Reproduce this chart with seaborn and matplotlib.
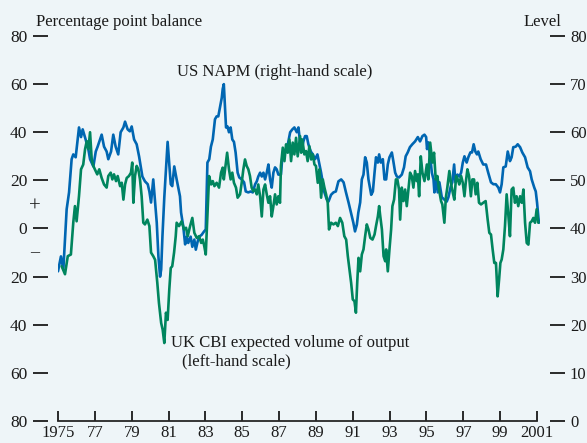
# plot.py - UK CBI output expectations vs US NAPM

import seaborn as sns
import matplotlib.pyplot as plt
import matplotlib.transforms as mtransforms

# US NAPM index (right-hand scale, level)
napm_years = [
    1975.00, 1975.16, 1975.29, 1975.47, 1975.60, 1975.74, 1975.83, 1975.96,
    1976.14, 1976.25, 1976.34, 1976.50, 1976.65, 1976.74, 1976.92, 1977.05,
    1977.15, 1977.28, 1977.37, 1977.50, 1977.64, 1977.73, 1977.88, 1978.00,
    1978.13, 1978.27, 1978.40, 1978.55, 1978.64, 1978.78, 1978.90, 1979.00,
    1979.13, 1979.27, 1979.40, 1979.58, 1979.72, 1979.87, 1979.96, 1980.05,
    1980.17, 1980.27, 1980.36, 1980.45, 1980.54, 1980.60, 1980.67, 1980.77,
    1980.86, 1980.95, 1981.02, 1981.12, 1981.20, 1981.31, 1981.44, 1981.53,
    1981.62, 1981.68, 1981.80, 1981.90, 1981.99, 1982.07, 1982.20, 1982.29,
    1982.40, 1982.48, 1982.58, 1982.67, 1982.80, 1982.93, 1983.02, 1983.11,
    1983.21, 1983.30, 1983.40, 1983.52, 1983.61, 1983.70, 1983.80, 1983.89,
    1983.94, 1984.00, 1984.07, 1984.12, 1984.20, 1984.28, 1984.37, 1984.46,
    1984.55, 1984.64, 1984.75, 1984.84, 1984.97, 1985.10, 1985.19, 1985.33,
    1985.46, 1985.57, 1985.70, 1985.79, 1985.87, 1985.97, 1986.06, 1986.15,
    1986.24, 1986.33, 1986.42, 1986.51, 1986.60, 1986.69, 1986.78, 1986.87,
    1986.96, 1987.10, 1987.18, 1987.32, 1987.45, 1987.60, 1987.72, 1987.83,
    1987.96, 1988.05, 1988.14, 1988.23, 1988.32, 1988.41, 1988.50, 1988.59,
    1988.72, 1988.83, 1988.95, 1989.08, 1989.17, 1989.28, 1989.37, 1989.46,
    1989.59, 1989.68, 1989.82, 1989.95, 1990.08, 1990.22, 1990.37, 1990.50,
    1990.63, 1990.77, 1990.90, 1991.03, 1991.12, 1991.22, 1991.30, 1991.40,
    1991.49, 1991.58, 1991.67, 1991.76, 1991.85, 1992.00, 1992.09, 1992.18,
    1992.26, 1992.36, 1992.43, 1992.52, 1992.63, 1992.72, 1992.81, 1992.90,
    1992.99, 1993.12, 1993.20, 1993.30, 1993.39, 1993.51, 1993.66, 1993.78,
    1993.87, 1993.98, 1994.10, 1994.23, 1994.38, 1994.53, 1994.65, 1994.78,
    1994.89, 1994.98, 1995.03, 1995.10, 1995.20, 1995.29, 1995.38, 1995.43,
    1995.52, 1995.61, 1995.70, 1995.83, 1995.97, 1996.10, 1996.19, 1996.32,
    1996.40, 1996.50, 1996.57, 1996.68, 1996.78, 1996.88, 1996.97, 1997.06,
    1997.18, 1997.27, 1997.38, 1997.47, 1997.56, 1997.65, 1997.74, 1997.81,
    1997.94, 1998.08, 1998.23, 1998.35, 1998.50, 1998.63, 1998.76, 1998.90,
    1998.99, 1999.08, 1999.17, 1999.30, 1999.41, 1999.53, 1999.62, 1999.71,
    1999.84, 1999.95, 2000.08, 2000.20, 2000.35, 2000.49, 2000.62, 2000.71,
    2000.85, 2000.93, 2001.00, 2001.10,
]
napm_level = [
    31.1, 34.2, 31.5, 44.0, 47.5, 54.4, 55.4, 54.8,
    61.0, 59.0, 60.6, 58.5, 56.4, 54.4, 52.9, 56.0,
    57.0, 58.5, 59.5, 57.0, 56.0, 54.4, 56.0, 59.5,
    57.0, 55.4, 60.0, 61.0, 62.2, 60.6, 60.2, 61.2,
    58.5, 57.5, 55.0, 50.8, 49.8, 49.2, 47.7, 45.4,
    50.2, 45.4, 41.2, 34.2, 30.0, 31.5, 38.5, 46.5,
    52.3, 58.0, 54.4, 49.2, 48.8, 52.9, 50.2, 48.5,
    46.7, 43.3, 40.4, 36.7, 38.3, 37.0, 38.3, 36.2,
    37.7, 35.6, 37.3, 38.3, 38.7, 39.4, 39.8, 53.7,
    54.4, 57.0, 58.5, 62.7, 63.3, 63.3, 65.4, 67.2,
    69.0, 70.0, 64.8, 61.0, 61.2, 60.0, 61.0, 58.5,
    58.0, 55.8, 51.6, 50.6, 50.2, 49.6, 47.7, 47.5,
    47.7, 47.5, 49.2, 49.8, 50.8, 51.6, 50.8, 51.6,
    50.2, 51.6, 53.3, 50.2, 48.5, 51.6, 52.7, 52.3,
    51.2, 51.2, 55.0, 56.0, 57.0, 60.0, 60.6, 61.0,
    60.0, 61.0, 57.9, 56.5, 58.1, 59.2, 59.2, 57.5,
    56.0, 55.4, 54.4, 55.4, 53.7, 51.6, 49.6, 47.5,
    46.0, 45.6, 47.0, 47.5, 47.7, 49.8, 50.2, 49.6,
    47.5, 45.4, 43.3, 41.2, 39.4, 40.8, 43.3, 45.4,
    50.2, 51.2, 54.8, 53.7, 50.2, 47.0, 47.7, 51.6,
    54.8, 53.7, 55.4, 53.7, 54.4, 50.2, 50.2, 53.3,
    54.8, 55.8, 54.0, 51.6, 50.8, 50.6, 51.2, 52.7,
    55.0, 55.8, 56.9, 57.5, 58.1, 59.0, 58.1, 59.2,
    59.5, 59.0, 56.5, 57.9, 55.0, 51.6, 50.2, 47.5,
    50.2, 47.5, 49.6, 46.5, 46.0, 45.6, 46.5, 48.8,
    49.6, 53.3, 49.6, 51.2, 50.8, 51.6, 53.7, 55.0,
    53.7, 54.8, 55.8, 55.8, 57.5, 56.0, 55.4, 56.0,
    54.4, 53.3, 53.3, 51.6, 49.6, 49.2, 49.2, 48.5,
    47.5, 49.2, 52.7, 52.9, 56.0, 54.0, 54.8, 56.9,
    57.0, 57.5, 56.9, 55.8, 54.8, 52.7, 51.9, 50.2,
    48.5, 47.7, 45.4, 41.2,
]

# UK CBI expected volume of output (left-hand scale, balance)
cbi_years = [
    1975.20, 1975.38, 1975.53, 1975.70, 1975.83, 1975.92, 1976.01, 1976.14,
    1976.25, 1976.37, 1976.47, 1976.56, 1976.65, 1976.74, 1976.83, 1976.92,
    1977.00, 1977.13, 1977.24, 1977.37, 1977.50, 1977.64, 1977.73, 1977.86,
    1977.95, 1978.04, 1978.15, 1978.24, 1978.37, 1978.46, 1978.55, 1978.64,
    1978.73, 1978.85, 1978.96, 1979.03, 1979.09, 1979.18, 1979.27, 1979.36,
    1979.45, 1979.54, 1979.63, 1979.72, 1979.85, 1979.96, 1980.05, 1980.17,
    1980.27, 1980.39, 1980.48, 1980.60, 1980.68, 1980.77, 1980.86, 1980.95,
    1981.04, 1981.12, 1981.20, 1981.30, 1981.39, 1981.44, 1981.57, 1981.71,
    1981.84, 1981.95, 1982.04, 1982.17, 1982.29, 1982.40, 1982.53, 1982.66,
    1982.77, 1982.86, 1982.94, 1983.02, 1983.11, 1983.20, 1983.31, 1983.40,
    1983.49, 1983.61, 1983.74, 1983.85, 1983.94, 1984.00, 1984.10, 1984.18,
    1984.28, 1984.37, 1984.46, 1984.55, 1984.66, 1984.75, 1984.88, 1984.97,
    1985.06, 1985.15, 1985.24, 1985.33, 1985.42, 1985.51, 1985.60, 1985.70,
    1985.79, 1985.87, 1985.97, 1986.06, 1986.15, 1986.24, 1986.33, 1986.42,
    1986.51, 1986.60, 1986.69, 1986.78, 1986.87, 1986.96, 1987.05, 1987.10,
    1987.20, 1987.29, 1987.38, 1987.47, 1987.56, 1987.65, 1987.74, 1987.83,
    1987.92, 1988.01, 1988.14, 1988.20, 1988.26, 1988.37, 1988.46, 1988.55,
    1988.64, 1988.74, 1988.83, 1988.92, 1989.00, 1989.10, 1989.19, 1989.28,
    1989.37, 1989.46, 1989.55, 1989.64, 1989.71, 1989.82, 1989.95, 1990.08,
    1990.19, 1990.31, 1990.43, 1990.54, 1990.64, 1990.73, 1990.82, 1990.91,
    1991.00, 1991.09, 1991.17, 1991.24, 1991.31, 1991.40, 1991.49, 1991.58,
    1991.67, 1991.76, 1991.85, 1991.95, 1992.07, 1992.18, 1992.26, 1992.36,
    1992.43, 1992.48, 1992.58, 1992.67, 1992.76, 1992.81, 1992.90, 1992.99,
    1993.08, 1993.15, 1993.24, 1993.34, 1993.42, 1993.51, 1993.57, 1993.66,
    1993.75, 1993.84, 1993.93, 1994.02, 1994.11, 1994.20, 1994.29, 1994.38,
    1994.47, 1994.53, 1994.60, 1994.69, 1994.78, 1994.89, 1995.02, 1995.10,
    1995.20, 1995.32, 1995.41, 1995.50, 1995.59, 1995.68, 1995.79, 1995.86,
    1995.97, 1996.05, 1996.13, 1996.24, 1996.34, 1996.43, 1996.51, 1996.61,
    1996.70, 1996.78, 1996.88, 1996.97, 1997.06, 1997.13, 1997.22, 1997.31,
    1997.41, 1997.49, 1997.58, 1997.67, 1997.76, 1997.85, 1997.96, 1998.08,
    1998.21, 1998.32, 1998.41, 1998.50, 1998.59, 1998.68, 1998.77, 1998.86,
    1998.94, 1999.01, 1999.08, 1999.17, 1999.26, 1999.35, 1999.44, 1999.53,
    1999.62, 1999.71, 1999.80, 1999.89, 1999.98, 2000.08, 2000.17, 2000.26,
    2000.35, 2000.44, 2000.53, 2000.62, 2000.71, 2000.80, 2000.89, 2000.98,
    2001.07,
]
cbi_balance = [
    -15.7, -19.0, -11.5, -10.8, 2.5, 9.3, 3.0, 13.5,
    24.6, 26.6, 33.0, 36.3, 33.0, 40.0, 28.7, 26.0,
    24.6, 22.5, 24.6, 21.0, 18.3, 17.0, 21.8, 23.2,
    20.4, 22.5, 19.7, 21.8, 17.6, 19.0, 12.0, 18.3,
    21.0, 21.8, 23.2, 27.4, 10.7, 21.8, 26.0, 24.6,
    20.4, 13.4, 2.4, 1.7, 3.7, 1.0, -10.0, -11.5,
    -13.0, -22.6, -31.0, -39.3, -42.0, -47.6, -35.0, -38.0,
    -25.4, -16.4, -15.7, -10.0, -3.2, 2.4, 1.0, 3.0,
    -0.4, 0.3, -3.2, 1.0, 4.4, -1.8, -3.9, -3.2,
    -6.0, -4.6, -7.4, -10.8, 5.0, 21.8, 18.3, 19.7,
    17.6, 19.0, 17.0, 23.2, 25.3, 20.4, 26.6, 31.5,
    24.6, 20.4, 23.2, 19.0, 17.0, 12.8, 14.2, 19.0,
    24.6, 28.7, 26.0, 24.6, 21.8, 17.0, 15.5, 16.2,
    14.2, 18.3, 13.4, 5.0, 16.2, 18.3, 14.2, 10.7,
    13.4, 5.0, 9.3, 14.2, 10.0, 13.4, 10.7, 26.0,
    33.6, 28.0, 35.0, 31.5, 37.0, 28.0, 35.7, 30.8,
    37.7, 30.0, 38.4, 31.5, 37.0, 30.8, 32.2, 28.0,
    34.2, 28.7, 30.8, 26.6, 26.0, 19.0, 24.6, 12.8,
    20.4, 17.0, 14.2, 10.7, -0.4, 2.4, 1.7, 2.4,
    1.0, 4.4, 2.4, -3.2, -4.6, -11.5, -17.0, -22.6,
    -29.5, -30.2, -35.0, -22.6, -12.2, -17.8, -10.8, -8.7,
    -3.2, 1.7, -0.4, -3.9, -4.6, -2.5, 1.0, 5.0,
    9.3, 5.8, -0.4, -11.5, -13.6, -8.7, -17.8, -8.7,
    -0.4, 9.3, 12.0, 20.4, 20.4, 16.2, 3.7, 17.0,
    11.4, 16.2, 9.3, 16.2, 23.2, 21.8, 17.0, 23.9,
    19.7, 22.5, 13.4, 30.0, 23.2, 19.7, 26.6, 20.4,
    35.7, 27.4, 31.5, 20.4, 21.8, 16.2, 11.4, 10.0,
    2.4, 12.8, 17.0, 23.9, 18.3, 14.8, 12.0, 21.8,
    20.4, 18.3, 21.8, 19.0, 13.4, 19.0, 24.6, 21.8,
    13.4, 20.4, 20.4, 14.2, 19.0, 10.7, 10.0, 10.7,
    11.4, 3.7, -1.8, -2.5, -8.7, -14.3, -14.3, -28.2,
    -21.2, -14.3, -12.9, -8.7, 1.0, 14.2, 5.8, -3.2,
    16.2, 17.0, 10.7, 13.4, 9.3, 13.4, 10.7, 16.2,
    2.4, -6.0, -6.7, 2.4, 3.0, 4.4, 2.4, 8.0,
    2.4,
]

# axis ticks and labels
x_ticks = list(range(1975, 2002, 2))
x_labels = ['1975', '77', '79', '81', '83', '85', '87', '89', '91', '93',
            '95', '97', '99', '2001']
left_ticks = [-80, -60, -40, -20, 0, 20, 40, 60, 80]
left_labels = ['80', '60', '40', '20', '0', '20', '40', '60', '80']
right_ticks = [0, 10, 20, 30, 40, 50, 60, 70, 80]

bg = '#eef5f8'
blue = '#0066b2'
green = '#00855e'

sns.set_style('ticks')
plt.rcParams['font.family'] = ['Liberation Serif', 'DejaVu Serif']
plt.rcParams['text.color'] = '#1a1a1a'
plt.rcParams['xtick.color'] = '#1a1a1a'
plt.rcParams['ytick.color'] = '#1a1a1a'

fig = plt.figure(figsize=(5.87, 4.43), dpi=100, facecolor=bg)
ax = fig.add_axes([0.0988, 0.0497, 0.8208, 0.869])
ax2 = ax.twinx()
# green series drawn over the blue one
ax.set_zorder(2)
ax2.set_zorder(1)
ax.patch.set_visible(False)
ax2.patch.set_facecolor(bg)

sns.lineplot(x=napm_years, y=napm_level, ax=ax2, color=blue, linewidth=1.9,
             estimator=None, sort=False)
sns.lineplot(x=cbi_years, y=cbi_balance, ax=ax, color=green, linewidth=1.9,
             estimator=None, sort=False)

ax.set_xlim(1975, 2001.15)
ax.set_ylim(-80, 80)
ax2.set_ylim(0, 80)
for a in (ax, ax2):
    a.set_xlabel('')
    a.set_ylabel('')
    for s in ('top', 'left', 'right', 'bottom'):
        a.spines[s].set_visible(False)

ax.spines['bottom'].set_visible(True)
ax.spines['bottom'].set_bounds(1975, 2001)
ax.spines['bottom'].set_linewidth(1.3)
ax.spines['left'].set_position(('outward', 7.2))
ax2.spines['right'].set_position(('outward', 7.2))

ax.set_xticks(x_ticks, x_labels)
ax.tick_params(axis='x', direction='in', length=7, width=1.3, pad=3,
               labelsize=12)
ax.set_yticks(left_ticks, left_labels)
ax.tick_params(axis='y', direction='out', length=11, width=1.3, pad=4,
               labelsize=12.5)
ax2.set_yticks(right_ticks, [str(v) for v in right_ticks])
ax2.tick_params(axis='y', direction='out', length=11, width=1.3, pad=3.5,
                labelsize=12)

# labels
fig.text(36 / 587, 1 - 22 / 443, 'Percentage point balance', ha='left',
         va='center', fontsize=12)
fig.text(561 / 587, 1 - 22 / 443, 'Level', ha='right', va='center',
         fontsize=12)
ax.text(1986.78, 65, 'US NAPM (right-hand scale)', ha='center',
        va='center', fontsize=12)
ax.text(1981.13, -47.5, 'UK CBI expected volume of output', ha='left',
        va='center', fontsize=12)
ax.text(1981.73, -55.4, '(left-hand scale)', ha='left', va='center',
        fontsize=12)

trans = mtransforms.blended_transform_factory(ax.transAxes, ax.transData)
ax.text(-0.048, 9, '+', transform=trans, ha='center', va='center',
        fontsize=15)
ax.text(-0.048, -10, '\u2013', transform=trans, ha='center', va='center',
        fontsize=13)

fig.savefig('out.png', dpi=100, facecolor=bg)
